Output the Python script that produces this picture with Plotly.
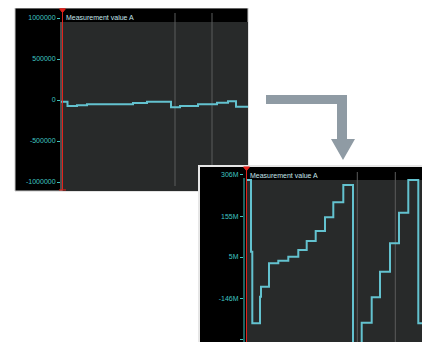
import plotly.graph_objects as go

# page body keeps its default 8px margin, so the figure is laid out in window px minus 8
OFF = 8
W, H = 430 - OFF, 342 - OFF

# top chart: measurement value A (full range view)
top_t = [-0.15, 0.5, 1.45, 2.45, 7.05, 8.45, 10.85, 11.75, 13.55, 15.45, 16.55, 17.35, 18.55]
top_val = [-21000, -73000, -65000, -52000, -37000, -21000, -89000, -73000,
           -52000, -33000, -16000, -82000, -82000]
top_ticks = [1000000, 500000, 0, -500000, -1000000]
top_ticktext = ["1000000", "500000", "0", "-500000", "-1000000"]
top_grid_t = [11.25, 14.95]

# bottom chart: same signal after auto scaling (values in millions)
bot_t = [0, 0.45, 0.58, 1.35, 1.45, 2.25, 3.18, 4.18, 5.18, 6.02, 6.92, 7.85, 8.68,
         9.68, 10.65, 11.52, 12.52, 13.35, 14.35, 15.25, 16.18, 17.18, 18.12, 18.35]
bot_val = [287.6, 24.5, -238.5, -140.6, -104, -18.3, -8.5, 6, 30.7, 63.7, 100.4, 150.6,
           205.8, 269.3, -330, -236, -143, -49, 55.3, 167.6, 287.6, -238.5, -104, -104]
bot_ticks = [306, 155, 5, -146, -296]
bot_ticktext = ["306M", "155M", "5M", "-146M", "-296M"]
bot_grid_t = [11.08, 14.88]

cursor_t = 0
title = "Measurement value A"

LINE = "#63c2cf"
RED = "#e3221c"
TICK = "#3fc4c0"
PLOT_BG = "#282a2a"
BORDER = "#c8c8c8"


def px(x):
    return (x - OFF) / W


def py(y):
    return 1 - (y - OFF) / H


fig = go.Figure()

fig.add_trace(go.Scatter(x=top_t, y=top_val, mode="lines", line_shape="hv",
                         line=dict(color=LINE, width=2), xaxis="x", yaxis="y"))
fig.add_trace(go.Scatter(x=[cursor_t, cursor_t], y=[1097000, -1097000], mode="lines+markers",
                         line=dict(color=RED, width=1),
                         marker=dict(symbol=["triangle-down", "line-ew"], size=5, color=RED,
                                     line=dict(color=RED, width=1)),
                         cliponaxis=False, xaxis="x", yaxis="y"))

fig.add_trace(go.Scatter(x=bot_t, y=bot_val, mode="lines", line_shape="hv",
                         line=dict(color=LINE, width=2), xaxis="x2", yaxis="y2"))
fig.add_trace(go.Scatter(x=[cursor_t, cursor_t], y=[331, -320], mode="lines+markers",
                         line=dict(color=RED, width=1),
                         marker=dict(symbol=["triangle-down", "line-ew"], size=5, color=RED,
                                     line=dict(color=RED, width=1)),
                         cliponaxis=False, xaxis="x2", yaxis="y2"))

shapes = []
# top panel frame, plot area, grid, axis line
shapes.append(dict(type="rect", xref="paper", yref="paper", x0=px(15), x1=px(248), y0=py(191), y1=py(8),
                   fillcolor="#000000", line=dict(color=BORDER, width=1), layer="below"))
shapes.append(dict(type="rect", xref="paper", yref="paper", x0=px(63), x1=px(248), y0=py(191), y1=py(22),
                   fillcolor=PLOT_BG, line=dict(width=0), layer="below"))
for g in top_grid_t:
    shapes.append(dict(type="line", xref="x", yref="paper", x0=g, x1=g, y0=py(186), y1=py(13),
                       line=dict(color="#5a5c5c", width=1), layer="below"))
shapes.append(dict(type="line", xref="paper", yref="paper", x0=px(61), x1=px(61), y0=py(191), y1=py(22),
                   line=dict(color="#9a9a9a", width=1), layer="below"))
# bottom panel
shapes.append(dict(type="rect", xref="paper", yref="paper", x0=px(199), x1=px(432), y0=py(344), y1=py(166),
                   fillcolor="#000000", line=dict(color="#e6e6e6", width=2), layer="below"))
shapes.append(dict(type="rect", xref="paper", yref="paper", x0=px(246), x1=px(432), y0=py(344), y1=py(180),
                   fillcolor=PLOT_BG, line=dict(width=0), layer="below"))
for g in bot_grid_t:
    shapes.append(dict(type="line", xref="x2", yref="paper", x0=g, x1=g, y0=py(342), y1=py(172),
                       line=dict(color="#5a5c5c", width=1), layer="below"))
shapes.append(dict(type="line", xref="paper", yref="paper", x0=px(244), x1=px(244), y0=py(342), y1=py(178),
                   line=dict(color=TICK, width=1), layer="below"))
# elbow arrow
pts = [(266, 95), (347, 95), (347, 139), (355, 139), (343, 160), (331, 139), (337, 139), (337, 104), (266, 104)]
path = "M " + " L ".join("%.5f,%.5f" % (px(a), py(b)) for a, b in pts) + " Z"
shapes.append(dict(type="path", xref="paper", yref="paper", path=path,
                   fillcolor="#8f9ba4", line=dict(width=0)))

annotations = [
    dict(text=title, xref="paper", yref="paper", x=px(64), y=py(17.5), xanchor="left", yanchor="middle",
         showarrow=False, font=dict(size=7, color="#c4e4ea", family="Liberation Sans")),
    dict(text=title, xref="paper", yref="paper", x=px(248), y=py(175), xanchor="left", yanchor="middle",
         showarrow=False, font=dict(size=7, color="#c4e4ea", family="Liberation Sans")),
]

axis_off = dict(visible=False, showgrid=False, zeroline=False)
yaxis_style = dict(showgrid=False, zeroline=False, showline=False, ticks="outside", ticklen=3,
                   tickcolor=TICK, tickwidth=1, tickfont=dict(size=7, color=TICK, family="Liberation Sans"))

fig.update_layout(
    width=W, height=H,
    margin=dict(l=0, r=0, t=0, b=0),
    paper_bgcolor="white",
    plot_bgcolor="rgba(0,0,0,0)",
    showlegend=False,
    xaxis=dict(domain=[px(61), px(248)], range=[-0.15, 18.55], **axis_off),
    yaxis=dict(domain=[py(191), py(8)], range=[-1109760, 1121950], tickvals=top_ticks,
               ticktext=top_ticktext, **yaxis_style),
    xaxis2=dict(domain=[px(244), 1], range=[-0.25, 18.35], anchor="y2", **axis_off),
    yaxis2=dict(domain=[0, py(166)], range=[-307.0, 339.0], tickvals=bot_ticks, ticktext=bot_ticktext,
                anchor="x2", **yaxis_style),
    shapes=shapes,
    annotations=annotations,
)

fig.write_html("out.html")
